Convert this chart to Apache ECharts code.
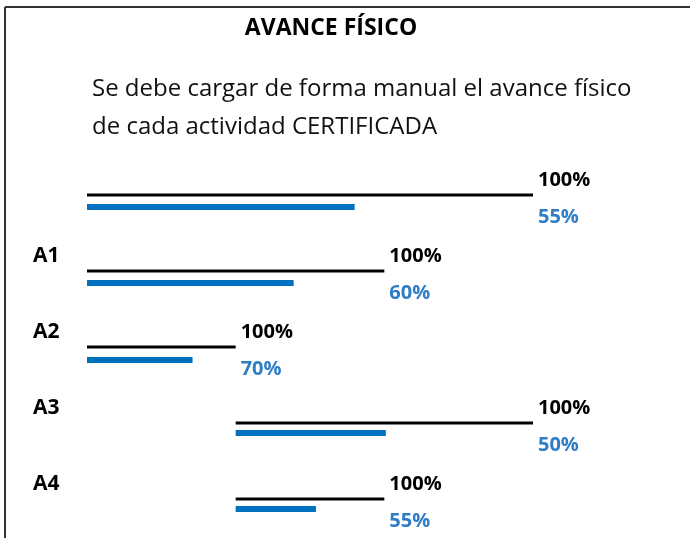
<!DOCTYPE html>
<html>
<head>
<meta charset="utf-8">
<script src="https://cdn.jsdelivr.net/npm/echarts@6/dist/echarts.min.js"></script>
<style>html,body{margin:0;padding:0;background:#fff}#c{width:690px;height:538px}</style>
</head>
<body>
<div id="c"></div>
<script>
const rows = ['', 'A1', 'A2', 'A3', 'A4'];
const planStart = [0, 0, 0, 1, 1];
const planEnd = [3, 2, 1, 3, 2];
const actualEnd = [1.80, 1.39, 0.71, 2.01, 1.54];
const planLabels = ['100%', '100%', '100%', '100%', '100%'];
const actualLabels = ['55%', '60%', '70%', '50%', '55%'];

const blueOffset = [12, 12, 13, 10, 10];
const FONT = '"Open Sans", Lato, sans-serif';
const BLACK = '#000000';
const BLUE = '#0070C0';
const BLUE_TEXT = '#2E7DC6';

const chart = echarts.init(document.getElementById('c'));

function renderRow(params, api) {
  const r = api.value(0);
  const s = api.value(1);
  const e = api.value(2);
  const a = api.value(3);
  const p0 = api.coord([s, r]);
  const p1 = api.coord([e, r]);
  const pa = api.coord([a, r]);
  const yb = p0[1] + blueOffset[r];
  const children = [
    { type: 'line', shape: { x1: p0[0], y1: p0[1], x2: p1[0], y2: p1[1] },
      style: { stroke: BLACK, lineWidth: 3 } },
    { type: 'rect', shape: { x: p0[0], y: yb - 3, width: pa[0] - p0[0], height: 6 },
      style: { fill: BLUE } },
    { type: 'text', x: p1[0] + 5, y: p1[1] - 15,
      style: { text: planLabels[r], fill: BLACK, font: 'bold 20px ' + FONT, verticalAlign: 'middle' } },
    { type: 'text', x: p1[0] + 5, y: p1[1] + 22,
      style: { text: actualLabels[r], fill: BLUE_TEXT, font: 'bold 20px ' + FONT, verticalAlign: 'middle' } }
  ];
  const base = api.coord([0, r]);
  if (rows[r]) {
    children.push({ type: 'text', x: base[0] - 54, y: base[1] - 15,
      style: { text: rows[r], fill: BLACK, font: 'bold 21px ' + FONT, verticalAlign: 'middle' } });
  }
  return { type: 'group', children };
}

const data = rows.map((_, i) => [i, planStart[i], planEnd[i], actualEnd[i]]);

chart.setOption({
  animation: false,
  title: [
    { text: 'AVANCE FÍSICO', left: 326, top: 12, textAlign: 'center',
      textStyle: { fontFamily: FONT, fontWeight: 'bold', fontSize: 23, color: '#000' } },
    { text: 'Se debe cargar de forma manual el avance físico\nde cada actividad CERTIFICADA',
      left: 87, top: 65,
      textStyle: { fontFamily: FONT, fontWeight: 'normal', fontSize: 24, lineHeight: 38, color: '#111' } }
  ],
  grid: { left: 87, right: 157, top: 195, bottom: 39 },
  xAxis: { type: 'value', min: 0, max: 3, show: false },
  yAxis: { type: 'category', data: rows, inverse: true, boundaryGap: false, show: false },
  graphic: [
    { type: 'line', shape: { x1: 5, y1: 7, x2: 690, y2: 7 }, style: { stroke: '#333', lineWidth: 2 } },
    { type: 'line', shape: { x1: 5, y1: 7, x2: 5, y2: 538 }, style: { stroke: '#333', lineWidth: 2 } }
  ],
  series: [{
    type: 'custom',
    renderItem: renderRow,
    encode: { x: [1, 2, 3], y: 0 },
    data: data,
    clip: false
  }]
});
</script>
</body>
</html>
